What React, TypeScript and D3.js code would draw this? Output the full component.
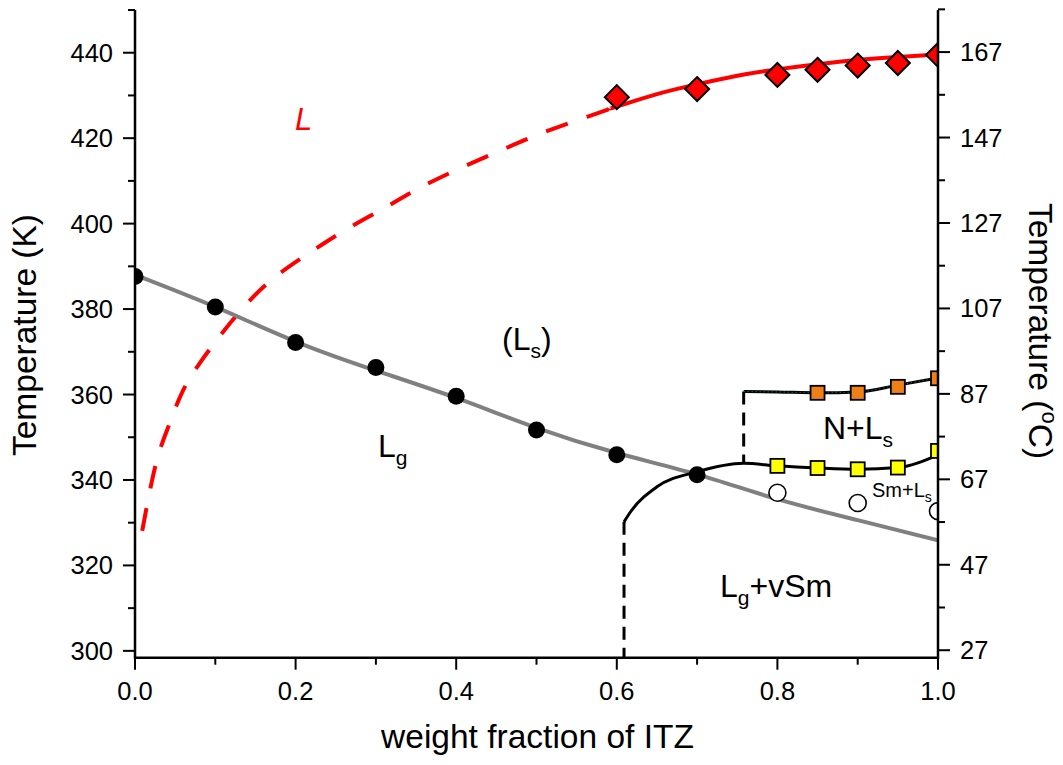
import React from "react";
import * as d3 from "d3";

// Axis ticks
const xMajor = [0, 0.2, 0.4, 0.6, 0.8, 1.0];
const xMinor = [0.1, 0.3, 0.5, 0.7, 0.9];
const kMajor = [300, 320, 340, 360, 380, 400, 420, 440];
const kMinor = [310, 330, 350, 370, 390, 410, 430, 450];
const cMajor = [27, 47, 67, 87, 107, 127, 147, 167];
const cMinor = [37, 57, 77, 97, 117, 137, 157, 177];

// Glass transition (filled circles) and its fitted curve
const lgX = [0, 0.1, 0.2, 0.3, 0.4, 0.5, 0.6, 0.7];
const lgT = [387.6, 380.5, 372.2, 366.3, 359.6, 351.7, 345.9, 341.2];
const lgFitX = [0, 0.1, 0.2, 0.3, 0.4, 0.5, 0.6, 0.7, 0.8, 0.9, 1.0];
const lgFitT = [388.0, 380.5, 372.4, 365.6, 359.2, 352.2, 346.3, 341.3, 335.5, 330.6, 325.9];

// Isotropic liquid transition (red diamonds), fit and extrapolation
const liqX = [0.6, 0.7, 0.8, 0.85, 0.9, 0.95, 1.0];
const liqT = [429.6, 431.5, 434.8, 436.0, 437.0, 437.6, 439.5];
const liqFitX = [0.59, 0.6, 0.65, 0.7, 0.75, 0.8, 0.85, 0.9, 0.95, 1.0];
const liqFitT = [427.0, 427.4, 430.3, 432.6, 434.6, 436.1, 437.3, 438.3, 439.0, 439.6];
const liqExtX = [0.009, 0.025, 0.04, 0.056, 0.079, 0.125, 0.17, 0.216, 0.262, 0.31, 0.357, 0.409, 0.461, 0.511, 0.563, 0.6];
const liqExtT = [328.1, 343.0, 351.7, 359.4, 366.9, 378.2, 386.8, 393.0, 398.5, 403.6, 408.6, 413.3, 417.6, 421.5, 425.0, 427.4];

// Nematic transition (orange squares) and boundary
const nX = [0.85, 0.9, 0.95, 1.0];
const nT = [360.4, 360.4, 361.8, 363.8];
const nLineX = [0.758, 0.8, 0.85, 0.9, 0.95, 1.0];
const nLineT = [360.7, 360.6, 360.4, 360.6, 362.2, 363.9];

// Smectic transition (yellow squares) and boundary
const smX = [0.8, 0.85, 0.9, 0.95, 1.0];
const smT = [343.3, 342.8, 342.5, 342.9, 346.8];
const smLineX = [0.609, 0.617, 0.65, 0.7, 0.758, 0.8, 0.85, 0.9, 0.95, 1.0];
const smLineT = [330.2, 332.5, 338.4, 341.9, 343.9, 343.3, 342.8, 342.5, 342.9, 345.9];

// Open circles
const openX = [0.8, 0.9, 1.0];
const openT = [337.0, 334.6, 332.7];

// Vertical dashed boundaries
const vSmX = 0.609;
const vSmTop = 330.2;
const nVX = 0.758;
const nVTop = 360.7;
const nVBottom = 343.9;

const W = 1063;
const H = 765;
const left = 135;
const right = 938;
const top = 10;
const bottom = 657.7;
const font = "'Liberation Sans', Arial, sans-serif";

export default function App() {
  const x = d3.scaleLinear().domain([0, 1]).range([left, right]);
  const yK = d3.scaleLinear().domain([298.4, 450]).range([bottom, top]);
  const yC = d3.scaleLinear().domain([298.4 - 273.15, 450 - 273.15]).range([bottom, top]);

  const line = (xs: number[], ts: number[], curve = d3.curveMonotoneX) =>
    d3
      .line<number>()
      .x((_, i) => x(xs[i]))
      .y((_, i) => yK(ts[i]))
      .curve(curve)(xs) as string;

  const diamond = (cx: number, cy: number, r: number) =>
    `M${cx},${cy - r}L${cx + r},${cy}L${cx},${cy + r}L${cx - r},${cy}Z`;

  const tickStroke = 2;
  return (
    <svg
      width={W}
      height={H}
      style={{ position: "absolute", left: 0, top: 0, background: "#fff" }}
      fontFamily={font}
    >
      <defs>
        <clipPath id="plot">
          <rect x={left} y={top} width={right - left} height={bottom - top} />
        </clipPath>
      </defs>
      <rect width={W} height={H} fill="#fff" />

      <g clipPath="url(#plot)">
        {/* extrapolated liquid line */}
        <path d={line(liqExtX, liqExtT, d3.curveNatural)} fill="none" stroke="#ff0000" strokeWidth={4} strokeDasharray="23 20" />
        <path d={line(liqFitX, liqFitT, d3.curveNatural)} fill="none" stroke="#ff0000" strokeWidth={4} />
        {/* glass transition fit */}
        <path d={line(lgFitX, lgFitT, d3.curveNatural)} fill="none" stroke="#808080" strokeWidth={4} />
        {/* phase boundaries */}
        <line x1={x(vSmX)} x2={x(vSmX)} y1={yK(vSmTop)} y2={bottom} stroke="#000" strokeWidth={3} strokeDasharray="13 8" />
        <line x1={x(nVX)} x2={x(nVX)} y1={yK(nVTop)} y2={yK(nVBottom)} stroke="#000" strokeWidth={3} strokeDasharray="13 8" />
        <path d={line(smLineX, smLineT)} fill="none" stroke="#000" strokeWidth={3} />
        <path d={line(nLineX, nLineT)} fill="none" stroke="#000" strokeWidth={3} />
        <path d={line(nLineX, nLineT)} fill="none" stroke="#0a8f8f" strokeWidth={1} strokeDasharray="1 3" />

        {lgX.map((v, i) => (
          <circle key={"lg" + i} cx={x(v)} cy={yK(lgT[i])} r={8.5} fill="#000" />
        ))}
        {openX.map((v, i) => (
          <circle key={"o" + i} cx={x(v)} cy={yK(openT[i])} r={8.5} fill="#fff" stroke="#000" strokeWidth={1.6} />
        ))}
        {smX.map((v, i) => (
          <rect key={"s" + i} x={x(v) - 7} y={yK(smT[i]) - 7} width={14} height={14} fill="#ffff00" stroke="#000" strokeWidth={1.8} />
        ))}
        {nX.map((v, i) => (
          <rect key={"n" + i} x={x(v) - 7} y={yK(nT[i]) - 7} width={14} height={14} fill="#f07f16" stroke="#000" strokeWidth={1.8} />
        ))}
        {liqX.map((v, i) => (
          <path key={"d" + i} d={diamond(x(v), yK(liqT[i]), 12)} fill="#ff0000" stroke="#000" strokeWidth={2} />
        ))}
      </g>

      {/* axes */}
      <g stroke="#000" strokeWidth={tickStroke}>
        <line x1={left} x2={left} y1={top} y2={bottom + 1} strokeWidth={2.5} />
        <line x1={right} x2={right} y1={top} y2={bottom + 1} strokeWidth={2.5} />
        <line x1={left - 1} x2={right + 1} y1={bottom} y2={bottom} strokeWidth={2.5} />
        {kMajor.map((v) => (
          <line key={"km" + v} x1={left - 12} x2={left} y1={yK(v)} y2={yK(v)} />
        ))}
        {kMinor.map((v) => (
          <line key={"kn" + v} x1={left - 7} x2={left} y1={yK(v)} y2={yK(v)} />
        ))}
        {cMajor.map((v) => (
          <line key={"cm" + v} x1={right} x2={right + 12} y1={yC(v)} y2={yC(v)} />
        ))}
        {cMinor.map((v) => (
          <line key={"cn" + v} x1={right} x2={right + 7} y1={yC(v)} y2={yC(v)} />
        ))}
        {xMajor.map((v) => (
          <line key={"xm" + v} x1={x(v)} x2={x(v)} y1={bottom} y2={bottom + 12} />
        ))}
        {xMinor.map((v) => (
          <line key={"xn" + v} x1={x(v)} x2={x(v)} y1={bottom} y2={bottom + 7} />
        ))}
      </g>

      <g fontSize={25.5} fill="#000">
        {kMajor.map((v) => (
          <text key={"kl" + v} x={left - 22} y={yK(v)} textAnchor="end" dominantBaseline="central">
            {v}
          </text>
        ))}
        {cMajor.map((v) => (
          <text key={"cl" + v} x={right + 22} y={yC(v)} textAnchor="start" dominantBaseline="central">
            {v}
          </text>
        ))}
        {xMajor.map((v) => (
          <text key={"xl" + v} x={x(v)} y={700} textAnchor="middle">
            {d3.format(".1f")(v)}
          </text>
        ))}
      </g>

      {/* axis titles */}
      <g fontSize={33.5} fill="#000">
        <text x={(left + right) / 2 + 1} y={748} textAnchor="middle">
          weight fraction of ITZ
        </text>
        <text transform="translate(36,335) rotate(-90)" textAnchor="middle">
          Temperature (K)
        </text>
        <text transform="translate(1029,331) rotate(90)" textAnchor="middle">
          Temperature (<tspan fontSize={22} dy={-13}>o</tspan>
          <tspan dy={13}>C)</tspan>
        </text>
      </g>

      {/* region labels */}
      <g fontSize={32} fill="#000">
        <text x={295} y={130} fill="#ff0000" fontStyle="italic" fontSize={31}>
          L
        </text>
        <text x={502} y={350}>
          (L<tspan fontSize={21} dy={8}>s</tspan>
          <tspan dy={-8}>)</tspan>
        </text>
        <text x={378} y={457}>
          L<tspan fontSize={21} dy={8}>g</tspan>
        </text>
        <text x={823} y={439}>
          N+L<tspan fontSize={21} dy={8}>s</tspan>
        </text>
        <text x={720} y={597}>
          L<tspan fontSize={21} dy={8}>g</tspan>
          <tspan dy={-8}>+vSm</tspan>
        </text>
        <text x={872} y={497} fontSize={20}>
          Sm+L<tspan fontSize={14} dy={5}>s</tspan>
        </text>
      </g>
    </svg>
  );
}
